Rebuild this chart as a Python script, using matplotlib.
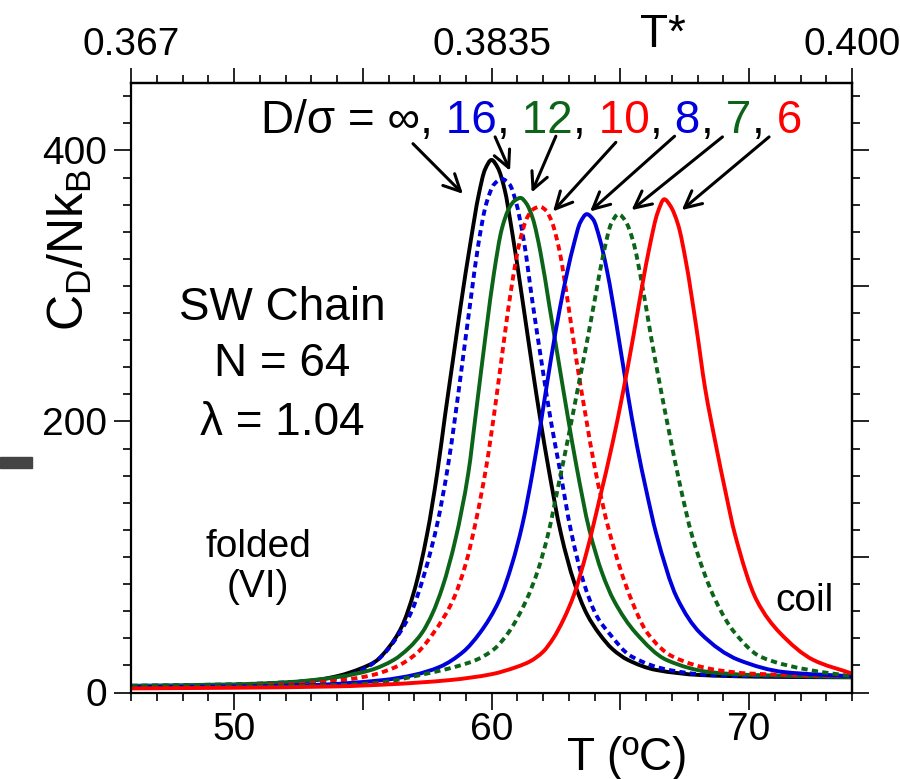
import numpy as np
import matplotlib
matplotlib.use('Agg')
import matplotlib.pyplot as plt
from matplotlib.ticker import MultipleLocator, FixedLocator, NullFormatter
from matplotlib.patches import Rectangle, PathPatch
from matplotlib.path import Path

plt.rcParams['font.family'] = ['Liberation Sans', 'DejaVu Sans']
plt.rcParams['mathtext.fontset'] = 'custom'
plt.rcParams['mathtext.rm'] = 'Liberation Sans'
plt.rcParams['mathtext.it'] = 'Liberation Sans:italic'

# curves: T (C) and C_D/Nk_B
T_inf = [46, 48, 50, 51.7, 53.2, 54.1, 54.9, 55.5, 56.0, 56.5, 57.0, 57.5, 57.9, 58.2, 58.5,
         58.8, 59.2, 59.5, 59.75, 60.0, 60.25, 60.5, 60.8, 61.2, 61.6, 61.9, 62.2, 62.7,
         63.2, 63.7, 64.2, 64.7, 65.3, 66.4, 68.1, 70, 72, 74]
C_inf = [4.3, 4.8, 5.5, 6.8, 9.2, 12.5, 17.5, 23, 33, 48, 75, 117, 163, 205, 245,
         285, 334, 367, 386, 393, 387, 372, 340, 290, 238, 201, 167, 117,
         82, 58, 43, 32, 24, 16.6, 12.9, 11.8, 11.4, 11.2]

T_16 = [46, 50, 52, 53.6, 54.5, 55.2, 55.8, 56.4, 56.9, 57.4, 57.9, 58.3, 58.6, 58.9, 59.2,
        59.5, 59.8, 60.1, 60.4, 60.7, 60.95, 61.25, 61.6, 61.95, 62.3, 62.65, 63.1, 63.6,
        64.1, 64.6, 65.4, 66.9, 68.5, 70, 74]
C_16 = [5, 6, 7.5, 9.2, 13, 19, 28, 43, 60, 88, 125, 166, 205, 248, 291,
        332, 361, 375, 379, 375, 362, 334, 287, 243, 201, 165, 118, 80,
        56, 43, 27, 16.6, 12.8, 12, 11.5]

T_12 = [46, 50, 52, 54.1, 55.3, 56.2, 56.8, 57.3, 57.7, 58.1, 58.6, 59.1, 59.4, 59.8, 60.1,
        60.4, 60.7, 60.9, 61.13, 61.35, 61.6, 61.9, 62.25, 62.6, 62.95, 63.3, 63.8, 64.3,
        64.75, 65.6, 66.8, 68.5, 70, 74]
C_12 = [5, 6, 7.5, 11.6, 16.5, 24, 33, 44, 58, 78, 113, 162, 207, 268, 310,
        342, 358, 363, 365, 361, 350, 325, 285, 245, 205, 167, 120, 88,
        68, 44, 24, 15, 13, 11.5]

T_10 = [46, 50, 52, 54.25, 55.4, 56.3, 57.1, 57.75, 58.5, 59.0, 59.4, 59.8, 60.15, 60.5,
        60.8, 61.1, 61.4, 61.65, 61.88, 62.1, 62.35, 62.65, 62.95, 63.3, 63.65, 64.0, 64.6,
        65.4, 66.05, 67.05, 68.75, 70, 74]
C_10 = [4, 4.8, 5.8, 9.2, 13, 19, 29, 44, 68, 95, 127, 167, 212, 262,
        302, 333, 351, 357, 358.5, 356, 347, 325, 290, 245, 205, 167, 117,
        70, 44, 26.4, 16.6, 14, 12]

T_8 = [46, 50, 53, 55.8, 57.0, 58.0, 58.9, 59.55, 60.3, 60.8, 61.2, 61.6, 61.95, 62.3,
       62.65, 62.95, 63.2, 63.45, 63.7, 63.95, 64.2, 64.5, 64.85, 65.25, 65.65, 66.0, 66.4,
       67.2, 68.1, 69.6, 71.4, 74]
C_8 = [4, 4.5, 5.5, 9.2, 13, 19, 30, 44, 68, 95, 124, 163, 203, 245,
       283, 311, 331, 347, 353, 349, 335, 310, 272, 225, 182, 150, 117,
       70, 44, 24, 15, 12]

T_7 = [46, 50, 54, 55.5, 57.5, 58.6, 59.4, 60.1, 60.65, 61.35, 61.8, 62.2, 62.6, 63.0, 63.35,
       63.7, 64.05, 64.35, 64.65, 64.93, 65.2, 65.5, 65.85, 66.2, 66.55, 66.9, 67.3, 67.8,
       68.7, 69.45, 70.45, 72.35, 74]
C_7 = [4, 4.5, 5.5, 7, 14, 19, 24, 32, 44, 68, 90, 117, 153, 190, 224,
       258, 294, 324, 346, 353, 348, 333, 301, 262, 226, 192, 155, 115,
       68, 44, 26.4, 16.6, 12]

T_6 = [46, 50, 54, 56, 58.4, 60.0, 61.0, 61.5, 62.0, 62.4, 62.8, 63.2, 63.7, 64.2, 64.7,
       65.1, 65.5, 65.85, 66.15, 66.45, 66.71, 66.95, 67.25, 67.55, 67.95, 68.3, 68.7, 69.1,
       69.45, 70.3, 71.2, 72.5, 74]
C_6 = [3, 3.5, 4.5, 6, 9.2, 13.5, 19, 23, 30, 40, 54, 72, 104, 143, 184,
       221, 262, 300, 330, 354, 364, 359, 345, 318, 270, 224, 184, 147,
       117, 68, 44, 24, 14]

BLUE = '#0000dd'
GREEN = '#0b6418'
RED = '#ff0000'
DOT = (0, (1.6, 1.1))

curves = [
    (T_inf, C_inf, 'black', '-'),
    (T_16, C_16, BLUE, DOT),
    (T_12, C_12, GREEN, '-'),
    (T_10, C_10, RED, DOT),
    (T_8, C_8, BLUE, '-'),
    (T_7, C_7, GREEN, DOT),
    (T_6, C_6, RED, '-'),
]

# legend pieces of the D/sigma line
label_parts = ['D/σ = ∞,', ' 16', ',', ' 12', ',', ' 10', ',', ' 8', ',', ' 7', ',', ' 6']
label_colors = ['black', BLUE, 'black', GREEN, 'black', RED, 'black', BLUE, 'black', GREEN, 'black', RED]

# arrows (tail -> head) in data coords
arrow_tails = [(56.95, 405), (60.14, 410), (62.5, 410.5), (64.83, 406), (67.11, 410.5), (68.97, 410), (70.78, 410)]
arrow_heads = [(58.89, 368), (60.72, 385), (61.56, 369), (62.39, 355), (63.83, 355), (65.44, 356), (67.39, 356)]

top_ticks = [46, 50, 55, 60, 65, 70, 74]
top_labels = ['0.367', '', '', '0.3835', '', '', '0.400']
bottom_ticks = [50, 55, 60, 65, 70]
bottom_labels = ['50', '', '60', '', '70']


def smooth_path(T, C):
    # monotone cubic (Fritsch-Carlson) drawn as bezier segments through the read points
    T = np.asarray(T, float)
    C = np.asarray(C, float)
    h = np.diff(T)
    delta = np.diff(C) / h
    d = np.zeros_like(C)
    for k in range(1, len(C) - 1):
        if delta[k - 1] * delta[k] > 0:
            w1 = 2 * h[k] + h[k - 1]
            w2 = h[k] + 2 * h[k - 1]
            d[k] = (w1 + w2) / (w1 / delta[k - 1] + w2 / delta[k])
    d[0] = delta[0]
    d[-1] = delta[-1]
    verts = [(T[0], C[0])]
    codes = [Path.MOVETO]
    for k in range(len(h)):
        verts += [(T[k] + h[k] / 3, C[k] + d[k] * h[k] / 3),
                  (T[k + 1] - h[k] / 3, C[k + 1] - d[k + 1] * h[k] / 3),
                  (T[k + 1], C[k + 1])]
        codes += [Path.CURVE4] * 3
    return Path(verts, codes)


fig = plt.figure(figsize=(9, 7.79), dpi=100)
ax = fig.add_axes([131 / 900, 1 - 692.5 / 779, 721 / 900, 609.8 / 779])

for T, C, col, ls in curves:
    ax.add_patch(PathPatch(smooth_path(T, C), fill=False, edgecolor=col, linestyle=ls,
                           lw=2.8, joinstyle='round'))

ax.set_xlim(46, 74)
ax.set_ylim(0, 450)

tick_kw = dict(direction='out', labelsize=28, width=1.2)
ax.xaxis.set_major_locator(FixedLocator(bottom_ticks))
ax.set_xticklabels(bottom_labels)
ax.xaxis.set_minor_locator(MultipleLocator(1))
ax.yaxis.set_major_locator(FixedLocator([0, 200, 400]))
ax.yaxis.set_minor_locator(MultipleLocator(20))
ax.tick_params(which='major', length=12, pad=2, **tick_kw)
ax.tick_params(which='minor', length=6, direction='out', width=1.2)
ax.tick_params(axis='y', which='major', pad=5)
for s in ax.spines.values():
    s.set_linewidth(1.6)

top = ax.secondary_xaxis('top')
top.xaxis.set_major_locator(FixedLocator(top_ticks))
top.set_xticklabels(top_labels)
top.xaxis.set_minor_locator(MultipleLocator(1))
top.tick_params(which='major', length=11, pad=3, **tick_kw)
top.tick_params(which='minor', length=6, direction='out', width=1.2)
top.spines['top'].set_linewidth(1.6)

right = ax.secondary_yaxis('right')
right.yaxis.set_major_locator(FixedLocator([0, 100, 200, 300, 400]))
right.yaxis.set_major_formatter(NullFormatter())
right.yaxis.set_minor_locator(MultipleLocator(20))
right.tick_params(which='major', length=12, direction='out', width=1.2)
right.tick_params(which='minor', length=6, direction='out', width=1.2)
right.spines['right'].set_linewidth(1.6)

# multicolour D/sigma line
prev = ax.text(51.05, 413, label_parts[0], fontsize=33, color=label_colors[0], va='baseline', ha='left')
for part, col in zip(label_parts[1:], label_colors[1:]):
    prev = ax.annotate(part, xy=(1, 0), xycoords=prev, fontsize=33, color=col, va='bottom', ha='left')

for tail, head in zip(arrow_tails, arrow_heads):
    ax.annotate('', xy=head, xytext=tail,
                arrowprops=dict(arrowstyle='->,head_length=0.6,head_width=0.3', lw=2.2,
                                color='black', mutation_scale=20, shrinkA=0, shrinkB=0))

ax.text(51.86, 275, 'SW Chain', fontsize=33, ha='center', va='baseline')
ax.text(51.86, 233.6, 'N = 64', fontsize=33, ha='center', va='baseline')
ax.text(51.86, 190, 'λ = 1.04', fontsize=33, ha='center', va='baseline')
ax.text(50.93, 100, 'folded', fontsize=28, ha='center', va='baseline')
ax.text(50.93, 70.5, '(VI)', fontsize=28, ha='center', va='baseline')
ax.text(72.17, 60, 'coil', fontsize=28, ha='center', va='baseline')

fig.text(70 / 900, 1 - 250 / 779, r'$\mathrm{C_D/Nk_B}$', fontsize=36, rotation=90, ha='center', va='center')
fig.text(627 / 900, 1 - 770 / 779, 'T (ºC)', fontsize=33, ha='center', va='baseline')
fig.text(663 / 900, 1 - 46.7 / 779, 'T*', fontsize=33, ha='center', va='baseline')

fig.patches.append(Rectangle((0, 1 - 468 / 779), 32 / 900, 11 / 779, transform=fig.transFigure,
                             color='#444444', zorder=5))

fig.savefig('out.png', dpi=100)
